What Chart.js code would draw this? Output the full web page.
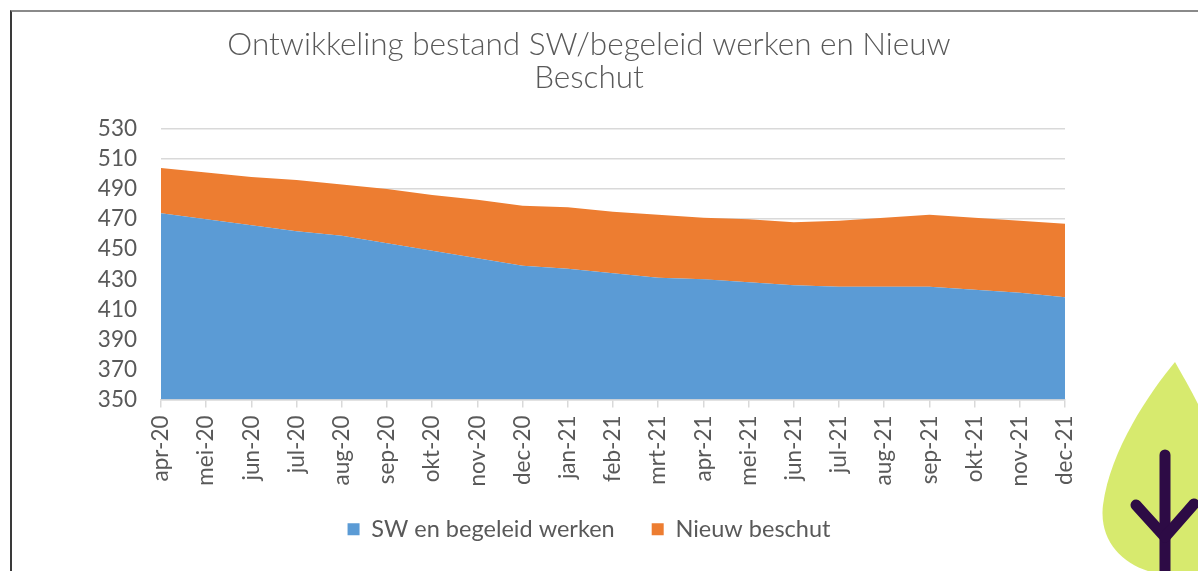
<!DOCTYPE html>
<html>
<head>
<meta charset="utf-8">
<script src="https://cdn.jsdelivr.net/npm/chart.js@4/dist/chart.umd.min.js"></script>
<style>
  html, body { margin: 0; padding: 0; background: #fff; }
  #wrap { position: relative; width: 1198px; height: 571px; overflow: hidden; }
  #c { position: absolute; left: 0; top: 0; }
  #frame { position: absolute; left: 10px; top: 10px; width: 1200px; height: 600px;
           border-top: 2px solid #8a8a8a; border-left: 2px solid #3a3a3a; pointer-events: none; }
  #leaf { position: absolute; left: 0; top: 0; pointer-events: none; }
</style>
</head>
<body>
<div id="wrap">
  <canvas id="c" width="1198" height="571"></canvas>
  <div id="frame"></div>
  <svg id="leaf" width="1198" height="571" viewBox="0 0 1198 571">
    <path d="M1175,362 C1150,392 1110,450 1103,505 C1098,548 1132,572 1168,575 L1200,575 L1200,408 C1192,392 1183,376 1175,362 Z" fill="#D7EA6E"/>
    <g stroke="#2D0B45" stroke-width="11" stroke-linecap="round" fill="none">
      <line x1="1165" y1="455" x2="1165" y2="580"/>
      <line x1="1136" y1="505" x2="1165" y2="537"/>
      <line x1="1194" y1="504" x2="1165" y2="537"/>
    </g>
  </svg>
</div>
<script>
const categories = ["apr-20","mei-20","jun-20","jul-20","aug-20","sep-20","okt-20","nov-20","dec-20",
  "jan-21","feb-21","mrt-21","apr-21","mei-21","jun-21","jul-21","aug-21","sep-21","okt-21","nov-21","dec-21"];
const swValues = [474,470,466,462,459,454,449,444,439,437,434,431,430,428,426,425,425,425,423,421,418];
const nieuwBeschutValues = [30,31,32,34,34,36,37,39,40,41,41,42,41,42,42,44,46,48,48,48,49];
const yTicks = [350,370,390,410,430,450,470,490,510,530];
const titleLines = ["Ontwikkeling bestand SW/begeleid werken en Nieuw", "Beschut"];

const txt = "#595959";
const grid = "#D9D9D9";

const noLabelClip = {
  id: "noLabelClip",
  beforeDraw(chart) {
    if (chart.scales.x) chart.scales.x._computeLabelArea = () => undefined;
  }
};

new Chart(document.getElementById("c"), {
  type: "line",
  data: {
    labels: categories,
    datasets: [
      { label: "SW en begeleid werken", data: swValues, backgroundColor: "#5B9BD5", borderColor: "#5B9BD5",
        borderWidth: 0, pointRadius: 0, fill: "origin", tension: 0 },
      { label: "Nieuw beschut", data: nieuwBeschutValues, backgroundColor: "#ED7D31", borderColor: "#ED7D31",
        borderWidth: 0, pointRadius: 0, fill: "-1", tension: 0 }
    ]
  },
  plugins: [noLabelClip],
  options: {
    responsive: false,
    animation: false,
    devicePixelRatio: 1,
    layout: { padding: { left: 0, right: 20, top: 0, bottom: 20 } },
    plugins: {
      tooltip: { enabled: false },
      title: {
        display: true, text: titleLines, color: txt,
        font: { family: "Lato, 'DejaVu Sans', sans-serif", size: 31.5, weight: 300, lineHeight: "33px" },
        padding: { top: 28, bottom: 35 }
      },
      legend: {
        position: "bottom",
        labels: { color: txt, boxWidth: 12, boxHeight: 12, padding: 37,
          font: { family: "Lato, 'Open Sans', sans-serif", size: 23.5 } }
      }
    },
    scales: {
      x: {
        offset: false,
        grid: { display: true, drawOnChartArea: false, color: grid, lineWidth: 1.5, tickLength: 8 },
        border: { display: true, color: grid, width: 1.5 },
        ticks: { color: txt, autoSkip: false, minRotation: 90, maxRotation: 90, padding: 8,
          font: { family: "Lato, sans-serif", size: 22.5 } },
        afterFit: (s) => { s.height = 81; }
      },
      y: {
        stacked: true, min: 350, max: 530,
        afterBuildTicks: (s) => { s.ticks = yTicks.map(v => ({ value: v })); },
        grid: { color: grid, lineWidth: 1.5, drawTicks: false },
        border: { display: false },
        ticks: { color: txt, padding: 24, font: { family: "Lato, sans-serif", size: 22.5 } },
        afterFit: (s) => { s.width = 161; }
      },
      y2: {
        position: "right", display: true,
        grid: { display: false }, border: { display: false },
        ticks: { display: false },
        afterFit: (s) => { s.width = 113; }
      }
    }
  }
});
</script>
</body>
</html>
